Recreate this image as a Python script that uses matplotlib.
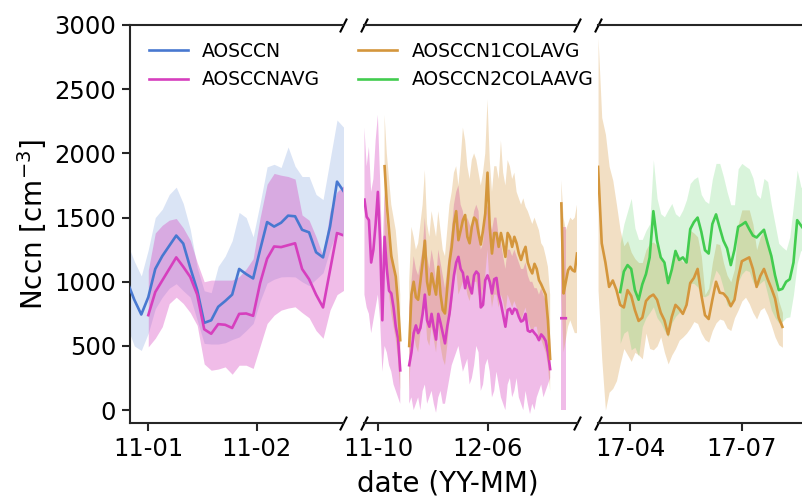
import numpy as np
import pandas as pd
import matplotlib
matplotlib.use('Agg')
import matplotlib.pyplot as plt
import matplotlib.dates as mdates

nan = np.nan

# period 1 : winter 2010/11, one value every 2 days
dates_1 = pd.date_range('2010-12-26', periods=32, freq='2D')
ccn_1 = [1000, 860, 745, 880, 1100, 1200, 1280, 1360, 1298, 1110,
         935, 680, 700, 805, 850, 900, 1100, 1060, 1026, 1250,
         1465, 1430, 1460, 1515, 1510, 1405, 1385, 1230, 1190, 1430,
         1780, 1700]
ccn_1_hi = [1300, 1160, 1045, 1250, 1500, 1565, 1680, 1737, 1610, 1410,
            1110, 930, 915, 1120, 1200, 1320, 1540, 1500, 1350, 1612,
            1895, 1915, 1890, 2050, 1900, 1820, 1820, 1680, 1640, 1950,
            2260, 2200]
ccn_1_lo = [650, 500, 465, 600, 790, 880, 950, 985, 930, 880,
            700, 520, 515, 515, 525, 550, 570, 620, 675, 850,
            990, 1020, 1038, 1040, 1038, 1000, 970, 1020, 1070, 1250,
            1400, 1350]
avg_1 = [nan, nan, nan, 740, 920, 1010, 1100, 1190, 1117, 1038,
         900, 630, 595, 670, 665, 640, 750, 753, 735, 990,
         1180, 1275, 1270, 1285, 1300, 1100, 1020, 900, 800, 1090,
         1380, 1360]
avg_1_hi = [nan, nan, nan, 1090, 1380, 1440, 1480, 1493, 1420, 1324,
            1150, 1000, 1013, 1013, 1013, 1013, 1040, 1100, 1180, 1500,
            1760, 1844, 1830, 1820, 1800, 1520, 1480, 1350, 1200, 1550,
            1700, 1750]
avg_1_lo = [nan, nan, nan, 493, 560, 650, 830, 880, 831, 760,
            660, 360, 311, 320, 337, 280, 350, 350, 325, 500,
            675, 740, 779, 795, 805, 760, 720, 620, 560, 780,
            900, 935]

# period 2 : 2011-09 .. 2012-12, one value every 5 days
dates_2 = pd.date_range('2011-08-31', periods=96, freq='5D')
avg_2 = ([1640, 1506, 1480, 1150, 1250, 1450, 1700, 1320, 700, 1350,
          1100, 930, 910, 800, 650, 560, 310, nan, nan, nan,
          350, 450, 600, 660, 600, 640, 750, 900, 700, 650,
          750, 640, 550, 750, 680, 600, 520, 650, 750, 900,
          1050, 1150, 1194, 1100, 1070, 950, 1040, 960, 909, 1050,
          1080, 1060, 800, 820, 1013, 1050, 1000, 909, 1020, 1030,
          900, 830, 740, 650, 780, 790, 750, 790, 780, 727,
          690, 700, 750, 620, 610, 623, 600, 580, 545, 590,
          570, 540, 450, 320, nan, nan, nan, nan, 716, 716,
          716, nan, nan, nan, nan, nan])
avg_2_hi = ([2200, 1900, 2050, 1700, 1800, 2100, 2300, 1800, 1200, 1700,
             1450, 1300, 1250, 1150, 1000, 900, 600, nan, nan, nan,
             800, 1000, 1200, 1100, 1050, 1150, 1250, 1500, 1200, 1100,
             1250, 1150, 1000, 1250, 1150, 1050, 950, 1100, 1250, 1400,
             1600, 1700, 1750, 1600, 1550, 1400, 1500, 1450, 1400, 1550,
             1600, 1550, 1250, 1300, 1500, 1600, 1500, 1400, 1500, 1500,
             1350, 1300, 1200, 1100, 1250, 1250, 1200, 1250, 1200, 1150,
             1100, 1100, 1150, 1050, 1000, 1000, 950, 950, 900, 950,
             900, 850, 750, 550, nan, nan, nan, nan, 1430, 1430,
             1430, nan, nan, nan, nan, nan])
avg_2_lo = ([900, 800, 750, 600, 700, 800, 900, 700, 300, 500,
             450, 350, 300, 200, 150, 100, 50, nan, nan, nan,
             50, 100, 0, 50, 100, 0, 150, 200, 50, 100,
             150, 50, -20, 100, 150, 50, 50, 150, 250, 350,
             400, 450, 500, 400, 300, 350, 400, 200, 250, 350,
             500, 450, 150, 200, 350, 400, 300, 100, 150, 300,
             200, 100, 50, 0, 200, 250, 100, 150, 250, 100,
             50, 0, 150, 50, -30, 50, 0, 100, 150, 200,
             100, 150, 200, 250, nan, nan, nan, nan, 0, 0,
             0, nan, nan, nan, nan, nan])
col1_2 = ([nan, nan, nan, nan, nan, nan, nan, nan, nan, 1900,
           1600, 1400, 1200, 1120, 1040, 830, 545, nan, nan, nan,
           500, 900, 1000, 880, 860, 1000, 1150, 1320, 1000, 900,
           1065, 980, 900, 1117, 900, 780, 753, 950, 1150, 1272,
           1450, 1550, 1324, 1400, 1480, 1520, 1350, 1300, 1428, 1500,
           1480, 1376, 1290, 1400, 1532, 1850, 1420, 1220, 1380, 1380,
           1272, 1380, 1300, 1194, 1380, 1350, 1272, 1350, 1300, 1220,
           1170, 1230, 1272, 1150, 1100, 1065, 1140, 1100, 1013, 980,
           940, 900, 700, 400, nan, nan, nan, nan, 1610, 909,
           1000, 1090, 1117, 1090, 1080, 1220])
col1_2_hi = ([nan, nan, nan, nan, nan, nan, nan, nan, nan, 2300,
              2000, 1800, 1600, 1500, 1400, 1200, 900, nan, nan, nan,
              1000, 1428, 1350, 1250, 1300, 1450, 1600, 1870, 1450, 1350,
              1550, 1450, 1350, 1550, 1400, 1250, 1200, 1400, 1600, 1700,
              1850, 1900, 1750, 1950, 2200, 2100, 1900, 1800, 1950, 2000,
              1950, 1850, 1750, 1850, 2000, 2420, 1950, 1700, 1900, 1900,
              1800, 2100, 1850, 1750, 1948, 1900, 1800, 1850, 1700, 1650,
              1600, 1650, 1584, 1550, 1500, 1450, 1500, 1450, 1400, 1300,
              1272, 1200, 1117, 900, nan, nan, nan, nan, 1790, 1500,
              1400, 1450, 1500, 1480, 1500, 1600])
col1_2_lo = ([nan, nan, nan, nan, nan, nan, nan, nan, nan, 1300,
              1050, 900, 750, 650, 550, 400, 150, nan, nan, nan,
              150, 550, 600, 500, 450, 600, 700, 850, 550, 500,
              650, 550, 450, 650, 500, 400, 350, 500, 700, 800,
              1000, 1100, 900, 950, 1000, 1000, 900, 850, 950, 1000,
              1000, 900, 850, 950, 1050, 1250, 950, 800, 900, 900,
              800, 900, 850, 750, 900, 850, 800, 850, 800, 750,
              700, 750, 800, 700, 650, 600, 650, 650, 550, 550,
              500, 450, 350, 150, nan, nan, nan, nan, 900, 450,
              550, 650, 700, 650, 600, 600])

# period 3 : 2017, one value every 3 days
dates_3 = pd.date_range('2017-03-06', periods=58, freq='3D')
col1_3 = [1895, 1300, 1150, 960, 1010, 935, 820, 800, 935, 890,
          779, 695, 720, 850, 883, 900, 860, 760, 700, 590,
          727, 820, 790, 750, 820, 990, 1030, 1100, 900, 740,
          710, 860, 1000, 915, 909, 875, 810, 860, 1030, 1160,
          1175, 1190, 1100, 960, 1045, 1100, 1020, 950, 870, 720,
          649, nan, nan, nan, nan, nan, nan, nan]
col1_3_hi = [2900, 2280, 2150, 1900, 1790, 1600, 1400, 1280, 1320, 1230,
             1180, 1150, 1150, 1250, 1300, 1310, 1280, 1180, 1120, 1050,
             1130, 1240, 1200, 1150, 1220, 1400, 1380, 1350, 1200, 900,
             950, 1150, 1298, 1290, 1150, 1050, 1000, 1100, 1450, 1560,
             1560, 1560, 1450, 1250, 1350, 1402, 1300, 1200, 1000, 850,
             760, nan, nan, nan, nan, nan, nan, nan]
col1_3_lo = [935, 400, 0, 140, 170, 230, 364, 480, 430, 380,
             450, 430, 400, 600, 480, 470, 500, 571, 450, 360,
             430, 480, 545, 570, 600, 640, 690, 675, 600, 550,
             530, 620, 680, 710, 700, 640, 620, 720, 780, 850,
             880, 830, 760, 710, 780, 800, 740, 660, 570, 510,
             490, nan, nan, nan, nan, nan, nan, nan]
col2_3 = [nan, nan, nan, nan, nan, nan, 920, 1080, 1130, 1100,
          935, 860, 980, 1060, 1190, 1550, 1320, 1190, 1150, 990,
          1095, 1240, 1170, 1190, 1150, 1410, 1465, 1500, 1390, 1246,
          1220, 1450, 1525, 1420, 1320, 1260, 1130, 1250, 1428, 1445,
          1465, 1410, 1360, 1345, 1376, 1405, 1300, 1200, 1050, 935,
          945, 1000, 1020, 1150, 1480, 1440, 1400, 1400]
col2_3_hi = [nan, nan, nan, nan, nan, nan, 1300, 1450, 1550, 1650,
             1420, 1330, 1330, 1400, 1450, 1950, 1650, 1530, 1506, 1560,
             1610, 1530, 1506, 1560, 1640, 1766, 1800, 1818, 1680, 1630,
             1610, 1800, 1922, 1922, 1820, 1700, 1600, 1600, 1880, 1922,
             1900, 1880, 1810, 1680, 1650, 1805, 1780, 1600, 1450, 1300,
             1270, 1246, 1350, 1600, 1870, 1740, 1700, 1700]
col2_3_lo = [nan, nan, nan, nan, nan, nan, 520, 600, 620, 470,
             490, 420, 650, 720, 760, 805, 720, 680, 620, 570,
             680, 730, 760, 790, 850, 987, 987, 960, 890, 883,
             900, 1000, 1091, 1050, 950, 820, 800, 900, 1000, 1060,
             1091, 1080, 1000, 960, 990, 1013, 900, 780, 720, 680,
             690, 720, 727, 900, 1143, 1246, 1200, 1200]

labels = ['AOSCCN', 'AOSCCNAVG', 'AOSCCN1COLAVG', 'AOSCCN2COLAAVG']
colors = ['#4878d0', '#d63fbe', '#d4963c', '#42cc4f']
band_alpha = [0.2, 0.35, 0.3, 0.2]

xlims = [('2010-12-26 18:30', '2011-02-25 17:00'),
         ('2011-08-30 00:00', '2012-12-18 00:00'),
         ('2017-03-06 05:00', '2017-08-26 12:00')]
xticks = [['2011-01-01', '2011-02-01'],
          ['2011-10-01', '2012-06-01'],
          ['2017-04-01', '2017-07-01']]

fig = plt.figure(figsize=(8.02, 4.99), dpi=100)
bottom, height = 76 / 499, 398 / 499
lefts = [130 / 802, 364 / 802, 598.3 / 802]
width = 213 / 802
axes = [fig.add_axes([l, bottom, width, height]) for l in lefts]

panels = [
    [(dates_1, ccn_1, ccn_1_lo, ccn_1_hi, 0), (dates_1, avg_1, avg_1_lo, avg_1_hi, 1)],
    [(dates_2, avg_2, avg_2_lo, avg_2_hi, 1), (dates_2, col1_2, col1_2_lo, col1_2_hi, 2)],
    [(dates_3, col1_3, col1_3_lo, col1_3_hi, 2), (dates_3, col2_3, col2_3_lo, col2_3_hi, 3)],
]

handles = {}
for ax, series in zip(axes, panels):
    for x, m, lo, hi, i in series:
        ax.fill_between(x, np.array(lo, float), np.array(hi, float),
                        color=colors[i], alpha=band_alpha[i], lw=0)
    for x, m, lo, hi, i in series:
        line, = ax.plot(x, np.array(m, float), color=colors[i], lw=1.9,
                        label=labels[i], zorder=3)
        handles[i] = line

for k, ax in enumerate(axes):
    ax.set_xlim(pd.Timestamp(xlims[k][0]), pd.Timestamp(xlims[k][1]))
    ax.set_ylim(-100, 3000)
    ax.set_xticks([pd.Timestamp(t) for t in xticks[k]])
    ax.xaxis.set_major_formatter(mdates.DateFormatter('%y-%m'))
    ax.tick_params(axis='both', length=6, width=1.5, labelsize=17.5,
                   color='0.15', pad=4)
    ax.spines['right'].set_visible(False)
    for s in ['top', 'bottom', 'left']:
        ax.spines[s].set_linewidth(1.5)
        ax.spines[s].set_color('0.15')
    if k > 0:
        ax.spines['left'].set_visible(False)
        ax.tick_params(axis='y', left=False, labelleft=False)

axes[0].set_yticks(np.arange(0, 3001, 500))
axes[0].set_ylabel('Nccn [cm$^{-3}$]', fontsize=20)

# break marks
kw = dict(marker=[(-1, -2), (1, 2)], markersize=10, linestyle='none',
          color='k', mec='k', mew=1.5, clip_on=False)
axes[0].plot([1, 1], [0, 1], transform=axes[0].transAxes, **kw)
axes[1].plot([0, 0, 1, 1], [0, 1, 0, 1], transform=axes[1].transAxes, **kw)
axes[2].plot([0, 0], [0, 1], transform=axes[2].transAxes, **kw)

fig.text(0.558, 0.032, 'date (YY-MM)', fontsize=20, ha='center', va='center')

fig.legend([handles[i] for i in range(4)], labels, loc='upper left',
           bbox_to_anchor=(132 / 802, 1 - 25 / 499), ncol=2, frameon=False,
           fontsize=13.5, handlelength=2.1, handletextpad=0.75,
           columnspacing=2.0, labelspacing=0.5)

fig.savefig('out.png', dpi=100)
